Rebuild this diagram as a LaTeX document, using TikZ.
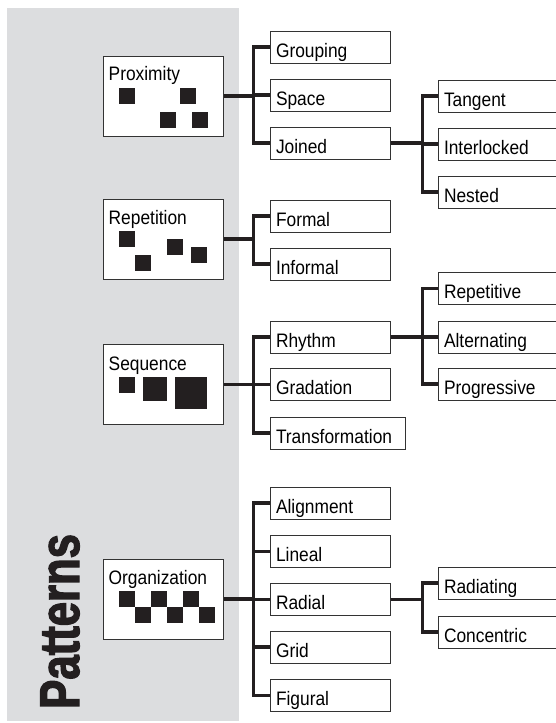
\documentclass[tikz,border=0pt]{standalone}
\usepackage{fontspec}
\setmainfont{Liberation Sans}[FakeStretch=0.89]
\newfontfamily\titlefont{Liberation Sans}[FakeStretch=0.78, BoldFeatures={FakeBold=2.2}]
\usetikzlibrary{calc}
\definecolor{band}{RGB}{220,221,223}
\definecolor{ink}{RGB}{35,31,32}
\begin{document}
\begin{tikzpicture}[x=1pt,y=-1pt,
  boxfont/.style={font=\fontsize{19.5}{20}\selectfont},
  lbox/.style={draw=black!80, line width=1pt, fill=white, boxfont,
    minimum height=32pt, text width=108pt, inner xsep=6pt, inner ysep=0pt,
    align=left, text height=20pt, text depth=0pt},
  widebox/.style={lbox, text width=123pt},
  rbox/.style={lbox, text width=118pt},
  bigbox/.style={draw=black!80, line width=1pt, fill=white,
    minimum width=120pt, minimum height=80pt, inner sep=0pt},
  biglabel/.style={boxfont, anchor=base west, inner sep=0pt},
  bar/.style={draw=ink, line width=3.5pt},
  sq/.style={fill=ink}
]
\useasboundingbox (0,0) rectangle (555,723);

% grey band behind the main categories
\fill[band] (7,8) rectangle (239,721);

% vertical title
\node[font=\titlefont\bfseries\fontsize{56}{56}\selectfont, text=ink,
  rotate=90, anchor=base west, inner sep=0pt] (title) at (79,709) {Patterns};

% ---------- main categories ----------
\node[bigbox] (prox) at (163,96) {};
\node[biglabel] (proxlbl) at ($(prox.north west)+(6,25)$) {Proximity};
\foreach \dx/\dy in {16/32, 77/32, 57/56, 89/56}
  \fill[sq] ($(prox.north west)+(\dx,\dy)$) rectangle ++(16,16);

\node[bigbox] (rep) at (163,239) {};
\node[biglabel] (replbl) at ($(rep.north west)+(6,26)$) {Repetition};
\foreach \dx/\dy in {16/32, 32/56, 64/40, 88/48}
  \fill[sq] ($(rep.north west)+(\dx,\dy)$) rectangle ++(16,16);

\node[bigbox] (seq) at (163,384.5) {};
\node[biglabel] (seqlbl) at ($(seq.north west)+(6,26)$) {Sequence};
\fill[sq] ($(seq.north west)+(16,33)$) rectangle ++(16,16);
\fill[sq] ($(seq.north west)+(40,33)$) rectangle ++(24,24);
\fill[sq] ($(seq.north west)+(72,33)$) rectangle ++(32,32);

\node[bigbox] (org) at (163,599) {};
\node[biglabel] (orglbl) at ($(org.north west)+(6,26)$) {Organization};
\foreach \dx/\dy in {16/32, 48/32, 80/32, 32/48, 64/48, 96/48}
  \fill[sq] ($(org.north west)+(\dx,\dy)$) rectangle ++(16,16);

% ---------- first level ----------
\node[lbox] (grouping) at (330,47) {Grouping};
\node[lbox] (space)    at (330,95) {Space};
\node[lbox] (joined)   at (330,143) {Joined};

\node[lbox] (formal)   at (330,216) {Formal};
\node[lbox] (informal) at (330,264) {Informal};

\node[lbox] (rhythm)    at (330,337) {Rhythm};
\node[lbox] (gradation) at (330,384.5) {Gradation};
\node[widebox] (transf) at (337.5,433) {Transformation};

\node[lbox] (alignment) at (330,503) {Alignment};
\node[lbox] (lineal)    at (330,551.5) {Lineal};
\node[lbox] (radial)    at (330,599.5) {Radial};
\node[lbox] (grid)      at (330,647) {Grid};
\node[lbox] (figural)   at (330,695.5) {Figural};

% ---------- second level ----------
\node[rbox] (tangent)     at (503,96) {Tangent};
\node[rbox] (interlocked) at (503,144) {Interlocked};
\node[rbox] (nested)      at (503,192) {Nested};

\node[rbox] (repetitive)  at (503,288.5) {Repetitive};
\node[rbox] (alternating) at (503,337) {Alternating};
\node[rbox] (progressive) at (503,384) {Progressive};

\node[rbox] (radiating)   at (503,583) {Radiating};
\node[rbox] (concentric)  at (503,632) {Concentric};

% ---------- connectors ----------
% Proximity
\coordinate (b1) at ($(space.west)+(-16,0)$);
\draw[bar] (grouping.west) -- ++(-16,0) |- (joined.west);
\draw[bar] (space.west) -- (b1);
\draw[bar] (prox.east) -- (prox.east -| b1);
% Joined
\coordinate (b2) at ($(interlocked.west)+(-15,0)$);
\draw[bar] (tangent.west) -- ++(-15,0) |- (nested.west);
\draw[bar] (interlocked.west) -- (b2);
\draw[bar] (joined.east) -- (joined.east -| b2);
% Repetition
\coordinate (b3) at ($(formal.west)+(-16,0)$);
\draw[bar] (formal.west) -- ++(-16,0) |- (informal.west);
\draw[bar] (rep.east) -- (rep.east -| b3);
% Sequence
\coordinate (b4) at ($(gradation.west)+(-16,0)$);
\draw[bar] (rhythm.west) -- ++(-16,0) |- (transf.west);
\draw[bar] (gradation.west) -- (b4);
\draw[bar] (seq.east) -- (seq.east -| b4);
% Rhythm
\coordinate (b5) at ($(alternating.west)+(-15,0)$);
\draw[bar] (repetitive.west) -- ++(-15,0) |- (progressive.west);
\draw[bar] (alternating.west) -- (b5);
\draw[bar] (rhythm.east) -- (rhythm.east -| b5);
% Organization
\coordinate (b6) at ($(radial.west)+(-16,0)$);
\draw[bar] (alignment.west) -- ++(-16,0) |- (figural.west);
\draw[bar] (lineal.west) -- ++(-16,0);
\draw[bar] (radial.west) -- (b6);
\draw[bar] (grid.west) -- ++(-16,0);
\draw[bar] (org.east) -- (org.east -| b6);
% Radial
\coordinate (b7) at ($(radiating.west)+(-15,0)$);
\draw[bar] (radiating.west) -- ++(-15,0) |- (concentric.west);
\draw[bar] (radial.east) -- (radial.east -| b7);
\end{tikzpicture}
\end{document}
